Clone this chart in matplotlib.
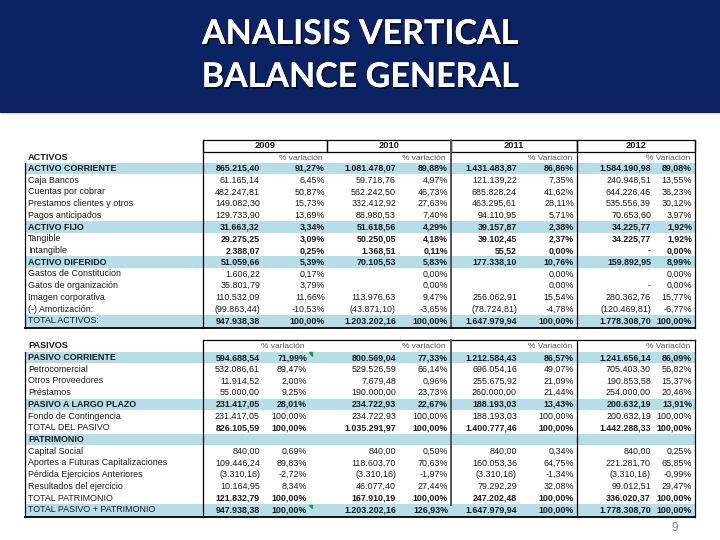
import matplotlib
matplotlib.use("Agg")
import matplotlib.pyplot as plt
from matplotlib.patches import Rectangle, Polygon
import matplotlib.patheffects as pe

# ---------------- data ----------------
title_lines = ["ANALISIS VERTICAL", "BALANCE GENERAL"]
years = ["2009", "2010", "2011", "2012"]
sub_top = ["% variación", "% variación", "% Variación", "% Variación"]
sub_bottom = ["% variación", "% variación", "% Variación", "% Variación"]

activos_labels = ["ACTIVOS"]
activos_rows = ["ACTIVO CORRIENTE", "Caja Bancos", "Cuentas por cobrar",
                "Prestamos clientes y otros", "Pagos anticipados", "ACTIVO FIJO",
                "Tangible", "Intangible", "ACTIVO DIFERIDO", "Gastos de Constitucion",
                "Gatos de organización", "Imagen corporativa", "(-) Amortización:",
                "TOTAL ACTIVOS:"]
activos_style = ["group", "normal", "normal", "normal", "normal", "group",
                 "boldval", "boldval", "group", "normal", "normal", "normal",
                 "normal", "total"]

act_2009_val = [865215.40, 61165.14, 482247.81, 149082.30, 129733.90, 31663.32,
                29275.25, 2388.07, 51059.66, 1606.22, 35801.79, 110532.09,
                -99863.44, 947938.38]
act_2009_pct = [91.27, 6.45, 50.87, 15.73, 13.69, 3.34, 3.09, 0.25, 5.39, 0.17,
                3.79, 11.66, -10.53, 100.00]
act_2010_val = [1081478.07, 59718.76, 562242.50, 332412.92, 88980.53, 51618.56,
                50250.05, 1368.51, 70105.53, None, None, 113976.63,
                -43871.10, 1203202.16]
act_2010_pct = [89.88, 4.97, 46.73, 27.63, 7.40, 4.29, 4.18, 0.11, 5.83, 0.00,
                0.00, 9.47, -3.65, 100.00]
act_2011_val = [1431483.87, 121139.22, 685828.24, 463295.61, 94110.95, 39157.87,
                39102.45, 55.52, 177338.10, None, None, 256062.91,
                -78724.81, 1647979.94]
act_2011_pct = [86.86, 7.35, 41.62, 28.11, 5.71, 2.38, 2.37, 0.00, 10.76, 0.00,
                0.00, 15.54, -4.78, 100.00]
act_2012_val = [1584190.98, 240948.51, 644226.46, 535556.39, 70653.60, 34225.77,
                34225.77, 0.0, 159892.95, None, 0.0, 280362.76,
                -120469.81, 1778308.70]
act_2012_pct = [89.08, 13.55, 36.23, 30.12, 3.97, 1.92, 1.92, 0.00, 8.99, 0.00,
                0.00, 15.77, -6.77, 100.00]

pasivos_labels = ["PASIVOS"]
pasivos_rows = ["PASIVO CORRIENTE", "Petrocomercial", "Otros Proveedores", "Préstamos",
                "PASIVO A LARGO PLAZO", "Fondo de Contingencia", "TOTAL DEL PASIVO",
                "PATRIMONIO", "Capital Social", "Aportes a Futuras Capitalizaciones",
                "Pérdida Ejercicios Anteriores", "Resultados del ejercicio",
                "TOTAL PATRIMONIO", "TOTAL PASIVO + PATRIMONIO"]
pasivos_style = ["group", "normal", "normal", "normal", "group", "normal", "boldval",
                 "group", "normal", "normal", "normal", "normal", "boldval", "total"]

pas_2009_val = [594688.54, 532086.61, 11914.52, 55000.00, 231417.05, 231417.05,
                826105.59, None, 840.00, 109446.24, -3310.16, 10164.95,
                121832.79, 947938.38]
pas_2009_pct = [71.99, 89.47, 2.00, 9.25, 28.01, 100.00, 100.00, None, 0.69, 89.83,
                -2.72, 8.34, 100.00, 100.00]
pas_2010_val = [800569.04, 529526.59, 7679.48, 190000.00, 234722.93, 234722.93,
                1035291.97, None, 840.00, 118603.70, -3310.16, 46077.40,
                167910.19, 1203202.16]
pas_2010_pct = [77.33, 66.14, 0.96, 23.73, 22.67, 100.00, 100.00, None, 0.50, 70.63,
                -1.97, 27.44, 100.00, 126.93]
pas_2011_val = [1212584.43, 696054.16, 255675.92, 260000.00, 188193.03, 188193.03,
                1400777.46, None, 840.00, 160053.36, -3310.16, 79292.29,
                247202.48, 1647979.94]
pas_2011_pct = [86.57, 49.07, 21.09, 21.44, 13.43, 100.00, 100.00, None, 0.34, 64.75,
                -1.34, 32.08, 100.00, 100.00]
pas_2012_val = [1241656.14, 705403.30, 190853.58, 254000.00, 200632.19, 200632.19,
                1442288.33, None, 840.00, 221281.70, -3310.16, 99012.51,
                336020.37, 1778308.70]
pas_2012_pct = [86.09, 56.82, 15.37, 20.46, 13.91, 100.00, 100.00, None, 0.25, 65.85,
                -0.99, 29.47, 100.00, 100.00]

page_number = "9"


def fmt_val(v):
    if v is None:
        return ""
    if v == 0:
        return "-"
    s = f"{abs(v):,.2f}".replace(",", "X").replace(".", ",").replace("X", ".")
    return f"({s})" if v < 0 else s


def fmt_pct(p):
    if p is None:
        return ""
    return f"{p:.2f}".replace(".", ",") + "%"


# ---------------- layout ----------------
W, H = 720, 540
fig = plt.figure(figsize=(7.2, 5.4), dpi=100)
ax = fig.add_axes([0, 0, 1, 1])
ax.set_xlim(0, W)
ax.set_ylim(H, 0)
ax.axis("off")

FONT = "Liberation Sans"
FS = 6.4
TXT = "#1a1a1a"
BAND = "#B7DEE8"
NAVY = "#0B2362"

# header band
ax.add_patch(Rectangle((0, 0), W, 112, color=NAVY, zorder=0))
for i, line in enumerate(title_lines):
    ax.text(360, 34 + i * 43, line, ha="center", va="center", color="white",
            fontsize=24.5, fontweight="bold", family="Lato",
            path_effects=[pe.withSimplePatchShadow(offset=(1.2, -1.2), shadow_rgbFace="black", alpha=0.6),
                          pe.Normal()])

x_label = 28
x_left, x_right = 25, 695
x_cols = [203, 327, 451, 577, 695]
val_right = [260, 396, 517, 651]
pct_right_top = [325, 448, 574, 692]
pct_right_bottom = [307, 448, 574, 692]
STEP = 11.72


def draw_section(y_first, rows, styles, vals, pcts, subs, title, top_line, bottom, with_years,
                 pct_right, mid_line_end=None):
    # bands
    for i, st in enumerate(styles):
        y = y_first + i * STEP
        if st in ("group", "total"):
            ax.add_patch(Rectangle((x_left, y - STEP / 2), x_right - x_left, STEP,
                                   color=BAND, zorder=1, lw=0))
    # year header
    if with_years:
        for j, yr in enumerate(years):
            ax.add_patch(Rectangle((x_cols[j], top_line), x_cols[j + 1] - x_cols[j], 12.5,
                                   fill=False, ec="black", lw=0.9, zorder=3))
            ax.text((x_cols[j] + x_cols[j + 1]) / 2, top_line + 6.5, yr, ha="center",
                    va="center", fontsize=FS + 0.3, fontweight="bold", family=FONT, color=TXT)
        sub_y = top_line + 18.5
    else:
        ax.plot([x_cols[0], x_right], [top_line, top_line], color="black", lw=0.9, zorder=3)
        sub_y = top_line + 6
    body_top = top_line
    # section title and sub headers
    ax.text(x_label, sub_y, title, ha="left", va="center", fontsize=FS + 0.2,
            fontweight="bold", family=FONT, color=TXT)
    for j, s in enumerate(subs):
        ax.text(pct_right[j] - 2, sub_y, s, ha="right", va="center", fontsize=FS - 0.4,
                family=FONT, color="#555555")
    # rows
    for i, (lab, st) in enumerate(zip(rows, styles)):
        y = y_first + i * STEP
        lab_bold = st == "group"
        val_bold = st in ("group", "boldval", "total")
        ax.text(x_label, y, lab, ha="left", va="center", fontsize=FS,
                fontweight="bold" if lab_bold else "normal", family=FONT, color=TXT)
        for j in range(4):
            ax.text(val_right[j], y, fmt_val(vals[j][i]), ha="right", va="center",
                    fontsize=FS, fontweight="bold" if val_bold else "normal",
                    family=FONT, color=TXT)
            ax.text(pct_right[j], y, fmt_pct(pcts[j][i]), ha="right", va="center",
                    fontsize=FS, fontweight="bold" if val_bold else "normal",
                    family=FONT, color=TXT)
    # borders
    y_top_rows = y_first - STEP / 2
    ax.plot([x_left, x_left], [y_top_rows, bottom], color="black", lw=0.9, zorder=3)
    for xc in [x_cols[0], x_cols[3], x_cols[4]]:
        ax.plot([xc, xc], [body_top, bottom], color="black", lw=0.9, zorder=3)
    end = bottom if mid_line_end is None else mid_line_end
    ax.plot([x_cols[2], x_cols[2]], [body_top, end], color="#555555", lw=1.4, zorder=3)
    ax.plot([x_left, x_right], [bottom, bottom], color="black", lw=1.3, zorder=3)


draw_section(168.5, activos_rows, activos_style,
             [act_2009_val, act_2010_val, act_2011_val, act_2012_val],
             [act_2009_pct, act_2010_pct, act_2011_pct, act_2012_pct],
             sub_top, activos_labels[0], 139.5, 327.5, True, pct_right_top)

draw_section(357.5, pasivos_rows, pasivos_style,
             [pas_2009_val, pas_2010_val, pas_2011_val, pas_2012_val],
             [pas_2009_pct, pas_2010_pct, pas_2011_pct, pas_2012_pct],
             sub_bottom, pasivos_labels[0], 340, 517, False, pct_right_bottom,
             mid_line_end=505)

# small comment markers (green corners)
for (cx, cy) in [(pct_right_bottom[0] + 1.5, 352.2), (pct_right_bottom[0] + 1.5, 504.5)]:
    ax.add_patch(Polygon([[cx, cy], [cx + 3.5, cy], [cx + 3.5, cy + 3.5]],
                         closed=True, color="#1E9B3A", zorder=4))

ax.text(675, 528, page_number, ha="center", va="center", fontsize=8.5,
        color="#8c8c8c", family=FONT)

fig.savefig("out.png", dpi=100)
